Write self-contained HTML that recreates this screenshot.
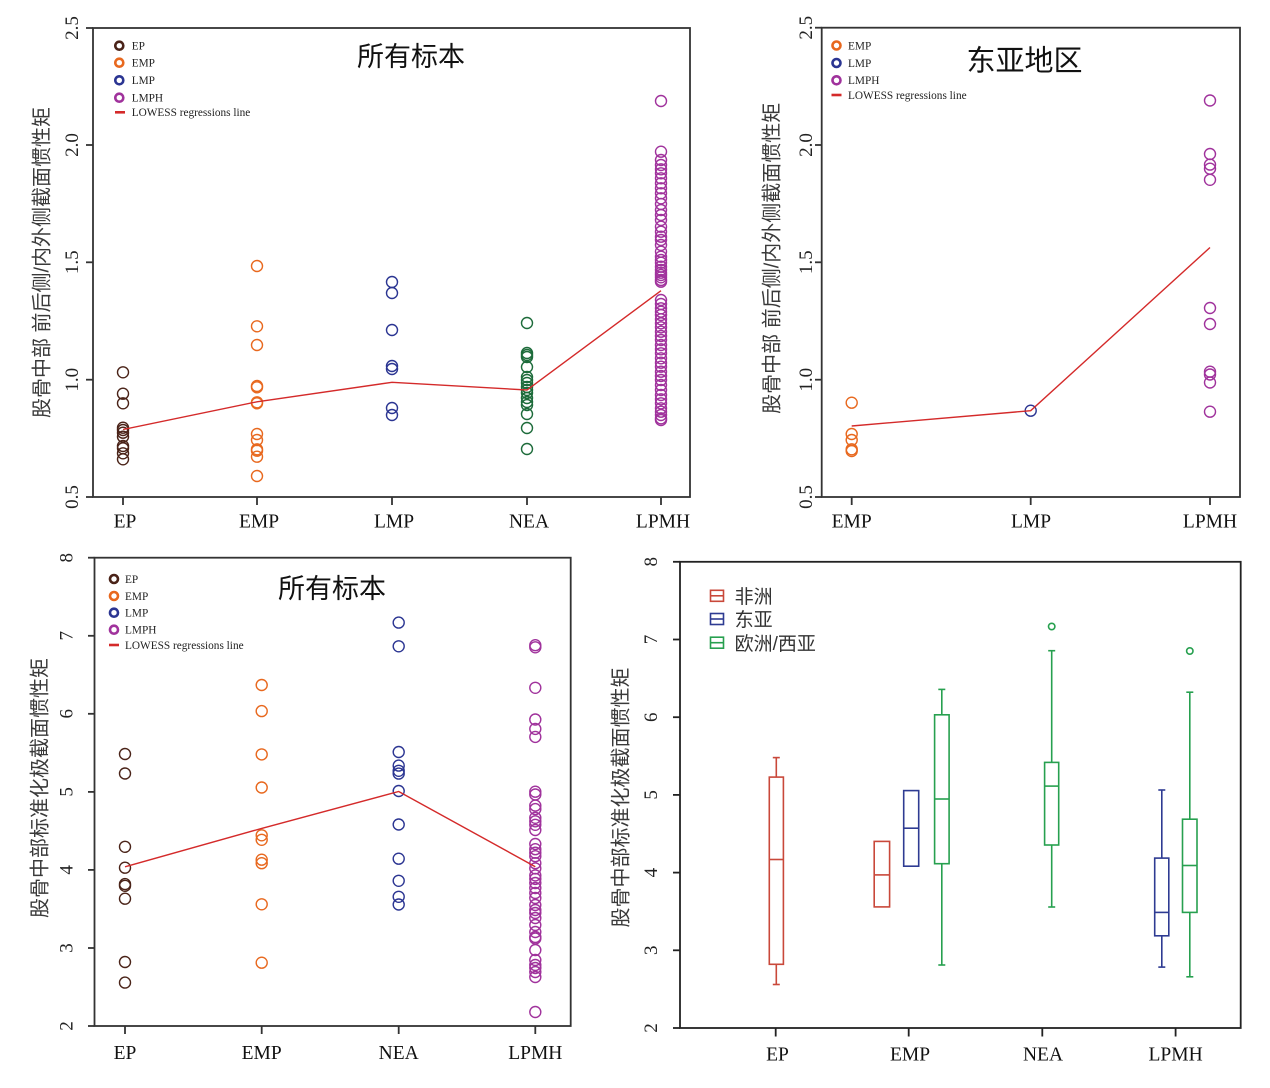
<!DOCTYPE html>
<html>
<head>
<meta charset="utf-8">
<style>
html,body{margin:0;padding:0;background:#fff;}
svg{display:block;}
.tk{font-family:"Liberation Serif",serif;font-size:19.5px;fill:#111;}
.yt{font-family:"Liberation Serif",serif;font-size:19px;fill:#222;}
.lg{font-family:"Liberation Serif",serif;font-size:11.3px;fill:#222;}
.cj{font-family:"Liberation Sans","Noto Sans CJK SC",sans-serif;}
</style>
</head>
<body>
<svg width="1270" height="1088" viewBox="0 0 1270 1088" xmlns="http://www.w3.org/2000/svg">
<rect width="1270" height="1088" fill="#fff"/>

<!-- ================= PANEL 1 ================= -->
<g stroke="#333" stroke-width="1.8" fill="none">
  <rect x="93" y="28" width="597" height="469"/>
  <line x1="86" y1="497" x2="93" y2="497"/>
  <line x1="86" y1="379.7" x2="93" y2="379.7"/>
  <line x1="86" y1="262.3" x2="93" y2="262.3"/>
  <line x1="86" y1="145" x2="93" y2="145"/>
  <line x1="86" y1="28" x2="93" y2="28"/>
  <line x1="123" y1="497" x2="123" y2="505"/>
  <line x1="257" y1="497" x2="257" y2="505"/>
  <line x1="392" y1="497" x2="392" y2="505"/>
  <line x1="527" y1="497" x2="527" y2="505"/>
  <line x1="661" y1="497" x2="661" y2="505"/>
</g>
<g class="yt" text-anchor="middle">
  <text x="78" y="497" transform="rotate(-90 78 497)">0.5</text>
  <text x="78" y="379.7" transform="rotate(-90 78 379.7)">1.0</text>
  <text x="78" y="262.3" transform="rotate(-90 78 262.3)">1.5</text>
  <text x="78" y="145" transform="rotate(-90 78 145)">2.0</text>
  <text x="78" y="28" transform="rotate(-90 78 28)">2.5</text>
</g>
<g class="tk" text-anchor="middle">
  <text x="125" y="527.7">EP</text>
  <text x="259" y="527.7">EMP</text>
  <text x="394" y="527.7">LMP</text>
  <text x="529" y="527.7">NEA</text>
  <text x="663" y="527.7">LPMH</text>
</g>
<text class="cj" x="48.6" y="262.5" transform="rotate(-90 48.6 262.5)" text-anchor="middle" font-size="20" fill="#3a3a3a">股骨中部 前后侧/内外侧截面惯性矩</text>
<text class="cj" x="411" y="66" text-anchor="middle" font-size="27" fill="#111">所有标本</text>

<!-- legend 1 -->
<g fill="none" stroke-width="2.6">
  <circle cx="119.3" cy="45.7" r="4" stroke="#4a2318"/>
  <circle cx="119.3" cy="62.7" r="4" stroke="#e8681e"/>
  <circle cx="119.3" cy="80.3" r="4" stroke="#2b3592"/>
  <circle cx="119.3" cy="97.7" r="4" stroke="#a0329c"/>
</g>
<line x1="115" y1="112.3" x2="125" y2="112.3" stroke="#d42a2a" stroke-width="2.6"/>
<g class="lg">
  <text x="131.7" y="49.5">EP</text>
  <text x="131.7" y="66.5">EMP</text>
  <text x="131.7" y="84.1">LMP</text>
  <text x="131.7" y="101.5">LMPH</text>
  <text x="131.7" y="116.1">LOWESS regressions line</text>
</g>

<!-- data panel 1 -->
<g fill="none" stroke-width="1.4">
<g stroke="#4a2318">
  <circle cx="123" cy="372.3" r="5.5"/><circle cx="123" cy="393.7" r="5.5"/><circle cx="123" cy="403.3" r="5.5"/>
  <circle cx="123" cy="427.7" r="5.5"/><circle cx="123" cy="430" r="5.5"/><circle cx="123" cy="432.7" r="5.5"/>
  <circle cx="123" cy="436.7" r="5.5"/><circle cx="123" cy="446" r="5.5"/><circle cx="123" cy="448.3" r="5.5"/>
  <circle cx="123" cy="453.3" r="5.5"/><circle cx="123" cy="459.3" r="5.5"/>
</g>
<g stroke="#e8681e">
  <circle cx="257" cy="266" r="5.5"/><circle cx="257" cy="326.3" r="5.5"/><circle cx="257" cy="345" r="5.5"/>
  <circle cx="257" cy="386" r="5.5"/><circle cx="257" cy="387.3" r="5.5"/><circle cx="257" cy="402.3" r="5.5"/>
  <circle cx="257" cy="403.3" r="5.5"/><circle cx="257" cy="434" r="5.5"/><circle cx="257" cy="440" r="5.5"/>
  <circle cx="257" cy="449.3" r="5.5"/><circle cx="257" cy="450.7" r="5.5"/><circle cx="257" cy="456.7" r="5.5"/>
  <circle cx="257" cy="476" r="5.5"/>
</g>
<g stroke="#2b3592">
  <circle cx="392" cy="282" r="5.5"/><circle cx="392" cy="293" r="5.5"/><circle cx="392" cy="330" r="5.5"/>
  <circle cx="392" cy="366" r="5.5"/><circle cx="392" cy="369" r="5.5"/><circle cx="392" cy="408" r="5.5"/>
  <circle cx="392" cy="415" r="5.5"/>
</g>
<g stroke="#1d6b3a">
  <circle cx="527" cy="323" r="5.5"/><circle cx="527" cy="353" r="5.5"/><circle cx="527" cy="355" r="5.5"/>
  <circle cx="527" cy="357" r="5.5"/><circle cx="527" cy="367" r="5.5"/><circle cx="527" cy="377" r="5.5"/>
  <circle cx="527" cy="380" r="5.5"/><circle cx="527" cy="383" r="5.5"/><circle cx="527" cy="387" r="5.5"/>
  <circle cx="527" cy="390" r="5.5"/><circle cx="527" cy="393" r="5.5"/><circle cx="527" cy="398" r="5.5"/>
  <circle cx="527" cy="402" r="5.5"/><circle cx="527" cy="405" r="5.5"/><circle cx="527" cy="414" r="5.5"/>
  <circle cx="527" cy="428" r="5.5"/><circle cx="527" cy="449" r="5.5"/>
</g>
<g stroke="#a0329c">
  <circle cx="661" cy="101" r="5.5"/>
  <circle cx="661" cy="151.7" r="5.5"/><circle cx="661" cy="160" r="5.5"/><circle cx="661" cy="165" r="5.5"/>
  <circle cx="661" cy="169.3" r="5.5"/><circle cx="661" cy="173.3" r="5.5"/><circle cx="661" cy="178.3" r="5.5"/>
  <circle cx="661" cy="183.3" r="5.5"/><circle cx="661" cy="188.3" r="5.5"/><circle cx="661" cy="193.3" r="5.5"/>
  <circle cx="661" cy="198.3" r="5.5"/><circle cx="661" cy="204" r="5.5"/><circle cx="661" cy="210" r="5.5"/>
  <circle cx="661" cy="215" r="5.5"/><circle cx="661" cy="220" r="5.5"/><circle cx="661" cy="226.7" r="5.5"/>
  <circle cx="661" cy="231.7" r="5.5"/><circle cx="661" cy="236.7" r="5.5"/><circle cx="661" cy="240" r="5.5"/>
  <circle cx="661" cy="245" r="5.5"/><circle cx="661" cy="251.7" r="5.5"/><circle cx="661" cy="256.7" r="5.5"/>
  <circle cx="661" cy="260" r="5.5"/><circle cx="661" cy="262.7" r="5.5"/><circle cx="661" cy="266.7" r="5.5"/>
  <circle cx="661" cy="270" r="5.5"/><circle cx="661" cy="272.7" r="5.5"/><circle cx="661" cy="275" r="5.5"/>
  <circle cx="661" cy="277.3" r="5.5"/><circle cx="661" cy="280" r="5.5"/><circle cx="661" cy="281.7" r="5.5"/>
  <circle cx="661" cy="300" r="5.5"/><circle cx="661" cy="304" r="5.5"/><circle cx="661" cy="308.3" r="5.5"/>
  <circle cx="661" cy="311.7" r="5.5"/><circle cx="661" cy="315" r="5.5"/><circle cx="661" cy="319.3" r="5.5"/>
  <circle cx="661" cy="323.3" r="5.5"/><circle cx="661" cy="327.3" r="5.5"/><circle cx="661" cy="331.7" r="5.5"/>
  <circle cx="661" cy="336" r="5.5"/><circle cx="661" cy="340" r="5.5"/><circle cx="661" cy="345" r="5.5"/>
  <circle cx="661" cy="349.3" r="5.5"/><circle cx="661" cy="353.3" r="5.5"/><circle cx="661" cy="358.3" r="5.5"/>
  <circle cx="661" cy="362.7" r="5.5"/><circle cx="661" cy="366.7" r="5.5"/><circle cx="661" cy="371.7" r="5.5"/>
  <circle cx="661" cy="376" r="5.5"/><circle cx="661" cy="380" r="5.5"/><circle cx="661" cy="385" r="5.5"/>
  <circle cx="661" cy="390" r="5.5"/><circle cx="661" cy="395" r="5.5"/><circle cx="661" cy="399.3" r="5.5"/>
  <circle cx="661" cy="403.3" r="5.5"/><circle cx="661" cy="408.3" r="5.5"/><circle cx="661" cy="411.7" r="5.5"/>
  <circle cx="661" cy="415" r="5.5"/><circle cx="661" cy="418.3" r="5.5"/><circle cx="661" cy="420" r="5.5"/>
</g>
</g>
<polyline points="123,429.5 257,401.8 392,382.3 527,390 661,290.7" fill="none" stroke="#d42a2a" stroke-width="1.4"/>

<!-- ================= PANEL 2 ================= -->
<g stroke="#333" stroke-width="1.8" fill="none">
  <rect x="821.7" y="27.7" width="418.3" height="469.3"/>
  <line x1="815" y1="497" x2="821.7" y2="497"/>
  <line x1="815" y1="379.7" x2="821.7" y2="379.7"/>
  <line x1="815" y1="262.3" x2="821.7" y2="262.3"/>
  <line x1="815" y1="145" x2="821.7" y2="145"/>
  <line x1="815" y1="27.7" x2="821.7" y2="27.7"/>
  <line x1="851.7" y1="497" x2="851.7" y2="505"/>
  <line x1="1030.7" y1="497" x2="1030.7" y2="505"/>
  <line x1="1210" y1="497" x2="1210" y2="505"/>
</g>
<g class="yt" text-anchor="middle">
  <text x="812" y="497" transform="rotate(-90 812 497)">0.5</text>
  <text x="812" y="379.7" transform="rotate(-90 812 379.7)">1.0</text>
  <text x="812" y="262.3" transform="rotate(-90 812 262.3)">1.5</text>
  <text x="812" y="145" transform="rotate(-90 812 145)">2.0</text>
  <text x="812" y="27.7" transform="rotate(-90 812 27.7)">2.5</text>
</g>
<g class="tk" text-anchor="middle">
  <text x="851.7" y="527.7">EMP</text>
  <text x="1031" y="527.7">LMP</text>
  <text x="1210" y="527.7">LPMH</text>
</g>
<text class="cj" x="778.6" y="258.3" transform="rotate(-90 778.6 258.3)" text-anchor="middle" font-size="20" fill="#3a3a3a">股骨中部 前后侧/内外侧截面惯性矩</text>
<text class="cj" x="1024.5" y="70.5" text-anchor="middle" font-size="29" fill="#111">东亚地区</text>

<g fill="none" stroke-width="2.6">
  <circle cx="836.5" cy="45.5" r="4" stroke="#e8681e"/>
  <circle cx="836.5" cy="63" r="4" stroke="#2b3592"/>
  <circle cx="836.5" cy="80.3" r="4" stroke="#a0329c"/>
</g>
<line x1="831.5" y1="95" x2="841.5" y2="95" stroke="#d42a2a" stroke-width="2.6"/>
<g class="lg">
  <text x="848" y="49.3">EMP</text>
  <text x="848" y="66.8">LMP</text>
  <text x="848" y="84.1">LMPH</text>
  <text x="848" y="98.8">LOWESS regressions line</text>
</g>

<g fill="none" stroke-width="1.4">
<g stroke="#e8681e">
  <circle cx="851.7" cy="402.7" r="5.5"/><circle cx="851.7" cy="434" r="5.5"/><circle cx="851.7" cy="440" r="5.5"/>
  <circle cx="851.7" cy="449.3" r="5.5"/><circle cx="851.7" cy="451" r="5.5"/>
</g>
<circle cx="1030.7" cy="410.7" r="5.5" stroke="#2b3592"/>
<g stroke="#a0329c">
  <circle cx="1210" cy="100.5" r="5.5"/><circle cx="1210" cy="154" r="5.5"/><circle cx="1210" cy="164.6" r="5.5"/>
  <circle cx="1210" cy="168.7" r="5.5"/><circle cx="1210" cy="179.8" r="5.5"/><circle cx="1210" cy="308" r="5.5"/>
  <circle cx="1210" cy="324" r="5.5"/><circle cx="1210" cy="371.7" r="5.5"/><circle cx="1210" cy="374.5" r="5.5"/>
  <circle cx="1210" cy="382.5" r="5.5"/><circle cx="1210" cy="411.7" r="5.5"/>
</g>
</g>
<polyline points="851.7,426 1030.7,410.7 1210,247.5" fill="none" stroke="#d42a2a" stroke-width="1.4"/>

<!-- ================= PANEL 3 ================= -->
<g stroke="#333" stroke-width="1.8" fill="none">
  <rect x="94.5" y="557.7" width="476.2" height="468.3"/>
  <line x1="88" y1="1026" x2="94.5" y2="1026"/>
  <line x1="88" y1="948" x2="94.5" y2="948"/>
  <line x1="88" y1="869.9" x2="94.5" y2="869.9"/>
  <line x1="88" y1="791.9" x2="94.5" y2="791.9"/>
  <line x1="88" y1="713.8" x2="94.5" y2="713.8"/>
  <line x1="88" y1="635.8" x2="94.5" y2="635.8"/>
  <line x1="88" y1="557.7" x2="94.5" y2="557.7"/>
  <line x1="125" y1="1026" x2="125" y2="1034"/>
  <line x1="261.7" y1="1026" x2="261.7" y2="1034"/>
  <line x1="398.7" y1="1026" x2="398.7" y2="1034"/>
  <line x1="535.3" y1="1026" x2="535.3" y2="1034"/>
</g>
<g class="yt" text-anchor="middle">
  <text x="72.5" y="1026" transform="rotate(-90 72.5 1026)">2</text>
  <text x="72.5" y="948" transform="rotate(-90 72.5 948)">3</text>
  <text x="72.5" y="869.9" transform="rotate(-90 72.5 869.9)">4</text>
  <text x="72.5" y="791.9" transform="rotate(-90 72.5 791.9)">5</text>
  <text x="72.5" y="713.8" transform="rotate(-90 72.5 713.8)">6</text>
  <text x="72.5" y="635.8" transform="rotate(-90 72.5 635.8)">7</text>
  <text x="72.5" y="557.7" transform="rotate(-90 72.5 557.7)">8</text>
</g>
<g class="tk" text-anchor="middle">
  <text x="125" y="1059">EP</text>
  <text x="261.7" y="1059">EMP</text>
  <text x="398.7" y="1059">NEA</text>
  <text x="535.3" y="1059">LPMH</text>
</g>
<text class="cj" x="46.6" y="788" transform="rotate(-90 46.6 788)" text-anchor="middle" font-size="20" fill="#3a3a3a">股骨中部标准化极截面惯性矩</text>
<text class="cj" x="332" y="598" text-anchor="middle" font-size="27" fill="#111">所有标本</text>

<g fill="none" stroke-width="2.6">
  <circle cx="114" cy="579" r="4" stroke="#4a2318"/>
  <circle cx="114" cy="596" r="4" stroke="#e8681e"/>
  <circle cx="114" cy="612.7" r="4" stroke="#2b3592"/>
  <circle cx="114" cy="629.7" r="4" stroke="#a0329c"/>
</g>
<line x1="109" y1="645" x2="119" y2="645" stroke="#d42a2a" stroke-width="2.6"/>
<g class="lg">
  <text x="125" y="582.8">EP</text>
  <text x="125" y="599.8">EMP</text>
  <text x="125" y="616.5">LMP</text>
  <text x="125" y="633.5">LMPH</text>
  <text x="125" y="648.8">LOWESS regressions line</text>
</g>

<g fill="none" stroke-width="1.4">
<g stroke="#4a2318">
  <circle cx="125" cy="754" r="5.5"/><circle cx="125" cy="773.5" r="5.5"/><circle cx="125" cy="846.8" r="5.5"/>
  <circle cx="125" cy="867.7" r="5.5"/><circle cx="125" cy="884.1" r="5.5"/><circle cx="125" cy="885.8" r="5.5"/>
  <circle cx="125" cy="898.7" r="5.5"/><circle cx="125" cy="962" r="5.5"/><circle cx="125" cy="982.6" r="5.5"/>
</g>
<g stroke="#e8681e">
  <circle cx="261.7" cy="685" r="5.5"/><circle cx="261.7" cy="711.1" r="5.5"/><circle cx="261.7" cy="754.4" r="5.5"/>
  <circle cx="261.7" cy="787.5" r="5.5"/><circle cx="261.7" cy="835.3" r="5.5"/><circle cx="261.7" cy="839.8" r="5.5"/>
  <circle cx="261.7" cy="859.7" r="5.5"/><circle cx="261.7" cy="863.2" r="5.5"/><circle cx="261.7" cy="904.3" r="5.5"/>
  <circle cx="261.7" cy="962.7" r="5.5"/>
</g>
<g stroke="#2b3592">
  <circle cx="398.7" cy="622.6" r="5.5"/><circle cx="398.7" cy="646.3" r="5.5"/><circle cx="398.7" cy="752" r="5.5"/>
  <circle cx="398.7" cy="765.6" r="5.5"/><circle cx="398.7" cy="770.8" r="5.5"/><circle cx="398.7" cy="773.6" r="5.5"/>
  <circle cx="398.7" cy="791" r="5.5"/><circle cx="398.7" cy="824.5" r="5.5"/><circle cx="398.7" cy="858.7" r="5.5"/>
  <circle cx="398.7" cy="880.8" r="5.5"/><circle cx="398.7" cy="896.8" r="5.5"/><circle cx="398.7" cy="904.5" r="5.5"/>
</g>
<g stroke="#a0329c">
  <circle cx="535.3" cy="645.2" r="5.5"/><circle cx="535.3" cy="647.3" r="5.5"/><circle cx="535.3" cy="687.8" r="5.5"/>
  <circle cx="535.3" cy="719.5" r="5.5"/><circle cx="535.3" cy="728.9" r="5.5"/><circle cx="535.3" cy="736.9" r="5.5"/>
  <circle cx="535.3" cy="791.7" r="5.5"/><circle cx="535.3" cy="794.5" r="5.5"/><circle cx="535.3" cy="805.6" r="5.5"/>
  <circle cx="535.3" cy="809.1" r="5.5"/><circle cx="535.3" cy="817.8" r="5.5"/><circle cx="535.3" cy="821.3" r="5.5"/>
  <circle cx="535.3" cy="824.8" r="5.5"/><circle cx="535.3" cy="830" r="5.5"/><circle cx="535.3" cy="844" r="5.5"/>
  <circle cx="535.3" cy="849.2" r="5.5"/><circle cx="535.3" cy="852.7" r="5.5"/><circle cx="535.3" cy="856.2" r="5.5"/>
  <circle cx="535.3" cy="863.2" r="5.5"/><circle cx="535.3" cy="868.4" r="5.5"/><circle cx="535.3" cy="875.4" r="5.5"/>
  <circle cx="535.3" cy="878.9" r="5.5"/><circle cx="535.3" cy="883" r="5.5"/><circle cx="535.3" cy="888" r="5.5"/>
  <circle cx="535.3" cy="893" r="5.5"/><circle cx="535.3" cy="898" r="5.5"/><circle cx="535.3" cy="905" r="5.5"/>
  <circle cx="535.3" cy="910" r="5.5"/><circle cx="535.3" cy="913" r="5.5"/><circle cx="535.3" cy="918" r="5.5"/>
  <circle cx="535.3" cy="925" r="5.5"/><circle cx="535.3" cy="932" r="5.5"/><circle cx="535.3" cy="937" r="5.5"/>
  <circle cx="535.3" cy="938.5" r="5.5"/><circle cx="535.3" cy="950" r="5.5"/><circle cx="535.3" cy="960" r="5.5"/>
  <circle cx="535.3" cy="965" r="5.5"/><circle cx="535.3" cy="968" r="5.5"/><circle cx="535.3" cy="972" r="5.5"/>
  <circle cx="535.3" cy="977" r="5.5"/><circle cx="535.3" cy="1012" r="5.5"/>
</g>
</g>
<polyline points="125,866.8 261.7,828.4 398.7,791.5 535.3,866.7" fill="none" stroke="#d42a2a" stroke-width="1.4"/>

<!-- ================= PANEL 4 ================= -->
<g stroke="#222" stroke-width="1.8" fill="none">
  <rect x="680" y="561.8" width="560.7" height="466.2"/>
  <line x1="673" y1="1028" x2="680" y2="1028"/>
  <line x1="673" y1="950.3" x2="680" y2="950.3"/>
  <line x1="673" y1="872.6" x2="680" y2="872.6"/>
  <line x1="673" y1="794.9" x2="680" y2="794.9"/>
  <line x1="673" y1="717.2" x2="680" y2="717.2"/>
  <line x1="673" y1="639.5" x2="680" y2="639.5"/>
  <line x1="673" y1="561.8" x2="680" y2="561.8"/>
  <line x1="775.7" y1="1028" x2="775.7" y2="1036.5"/>
  <line x1="908.7" y1="1028" x2="908.7" y2="1036.5"/>
  <line x1="1042.3" y1="1028" x2="1042.3" y2="1036.5"/>
  <line x1="1175.6" y1="1028" x2="1175.6" y2="1036.5"/>
</g>
<g class="yt" text-anchor="middle">
  <text x="657" y="1028" transform="rotate(-90 657 1028)">2</text>
  <text x="657" y="950.3" transform="rotate(-90 657 950.3)">3</text>
  <text x="657" y="872.6" transform="rotate(-90 657 872.6)">4</text>
  <text x="657" y="794.9" transform="rotate(-90 657 794.9)">5</text>
  <text x="657" y="717.2" transform="rotate(-90 657 717.2)">6</text>
  <text x="657" y="639.5" transform="rotate(-90 657 639.5)">7</text>
  <text x="657" y="561.8" transform="rotate(-90 657 561.8)">8</text>
</g>
<g class="tk" text-anchor="middle">
  <text x="777.5" y="1060.7">EP</text>
  <text x="910" y="1060.7">EMP</text>
  <text x="1043" y="1060.7">NEA</text>
  <text x="1175.6" y="1060.7">LPMH</text>
</g>
<text class="cj" x="627.6" y="797.5" transform="rotate(-90 627.6 797.5)" text-anchor="middle" font-size="20" fill="#3a3a3a">股骨中部标准化极截面惯性矩</text>

<!-- legend 4 -->
<g fill="none" stroke-width="1.6">
  <rect x="710.5" y="590.3" width="13" height="11" stroke="#c9483a"/>
  <line x1="710.5" y1="595.8" x2="723.5" y2="595.8" stroke="#c9483a"/>
  <rect x="710.5" y="613.5" width="13" height="11" stroke="#2e3b92"/>
  <line x1="710.5" y1="619" x2="723.5" y2="619" stroke="#2e3b92"/>
  <rect x="710.5" y="637.2" width="13" height="11" stroke="#27a04f"/>
  <line x1="710.5" y1="642.7" x2="723.5" y2="642.7" stroke="#27a04f"/>
</g>
<g class="cj" font-size="19" fill="#333">
  <text x="734.6" y="603">非洲</text>
  <text x="734.6" y="626.2">东亚</text>
  <text x="734.6" y="649.9">欧洲/西亚</text>
</g>

<!-- boxes -->
<g fill="none" stroke-width="1.6">
  <!-- EP red -->
  <g stroke="#c9483a">
    <line x1="776.3" y1="757.6" x2="776.3" y2="777.1"/>
    <line x1="772.8" y1="757.6" x2="779.8" y2="757.6"/>
    <rect x="769.3" y="777.1" width="14.1" height="187.2"/>
    <line x1="769.3" y1="859.5" x2="783.4" y2="859.5"/>
    <line x1="776.3" y1="964.3" x2="776.3" y2="984.5"/>
    <line x1="772.8" y1="984.5" x2="779.8" y2="984.5"/>
  </g>
  <!-- EMP red -->
  <g stroke="#c9483a">
    <rect x="874.2" y="841.4" width="15.4" height="65.5"/>
    <line x1="874.2" y1="874.9" x2="889.6" y2="874.9"/>
  </g>
  <!-- EMP blue -->
  <g stroke="#2e3b92">
    <rect x="903.7" y="790.6" width="15" height="75.6"/>
    <line x1="903.7" y1="828.2" x2="918.7" y2="828.2"/>
  </g>
  <!-- EMP green -->
  <g stroke="#27a04f">
    <line x1="941.8" y1="689.4" x2="941.8" y2="714.8"/>
    <line x1="938.3" y1="689.4" x2="945.3" y2="689.4"/>
    <rect x="934.6" y="714.8" width="14.5" height="148.9"/>
    <line x1="934.6" y1="799" x2="949.1" y2="799"/>
    <line x1="941.8" y1="863.7" x2="941.8" y2="965"/>
    <line x1="938.3" y1="965" x2="945.3" y2="965"/>
  </g>
  <!-- NEA green -->
  <g stroke="#27a04f">
    <line x1="1051.7" y1="650.7" x2="1051.7" y2="762.4"/>
    <line x1="1048.2" y1="650.7" x2="1055.2" y2="650.7"/>
    <rect x="1044.6" y="762.4" width="14.1" height="82.6"/>
    <line x1="1044.6" y1="786.1" x2="1058.7" y2="786.1"/>
    <line x1="1051.7" y1="845" x2="1051.7" y2="907"/>
    <line x1="1048.2" y1="907" x2="1055.2" y2="907"/>
    <circle cx="1051.7" cy="626.5" r="3.2"/>
  </g>
  <!-- LPMH blue -->
  <g stroke="#2e3b92">
    <line x1="1161.8" y1="790" x2="1161.8" y2="858.1"/>
    <line x1="1158.3" y1="790" x2="1165.3" y2="790"/>
    <rect x="1154.7" y="858.1" width="14.1" height="77.7"/>
    <line x1="1154.7" y1="912.4" x2="1168.8" y2="912.4"/>
    <line x1="1161.8" y1="935.8" x2="1161.8" y2="967.1"/>
    <line x1="1158.3" y1="967.1" x2="1165.3" y2="967.1"/>
  </g>
  <!-- LPMH green -->
  <g stroke="#27a04f">
    <line x1="1189.8" y1="692.2" x2="1189.8" y2="819.2"/>
    <line x1="1186.3" y1="692.2" x2="1193.3" y2="692.2"/>
    <rect x="1182.5" y="819.2" width="14.5" height="93.2"/>
    <line x1="1182.5" y1="865.5" x2="1197" y2="865.5"/>
    <line x1="1189.8" y1="912.4" x2="1189.8" y2="976.8"/>
    <line x1="1186.3" y1="976.8" x2="1193.3" y2="976.8"/>
    <circle cx="1189.8" cy="651" r="3.2"/>
  </g>
</g>
</svg>
</body>
</html>
